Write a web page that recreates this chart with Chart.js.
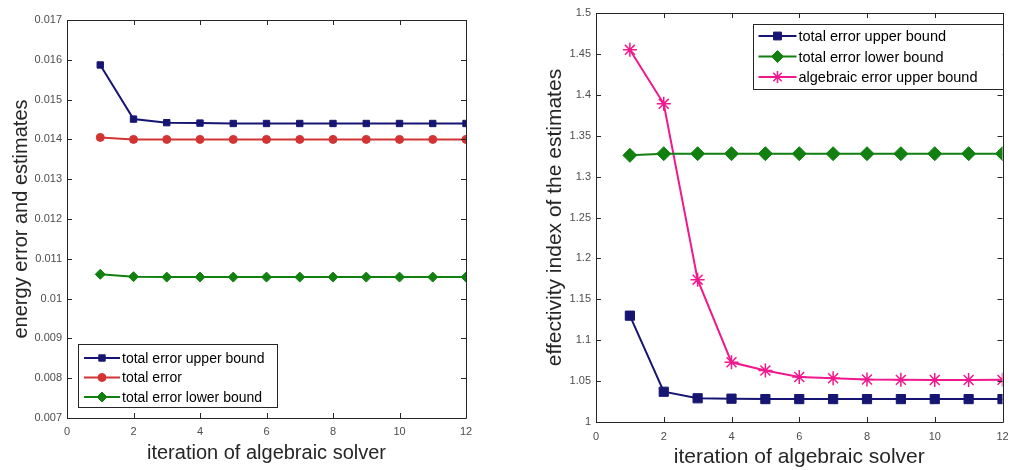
<!DOCTYPE html>
<html>
<head>
<meta charset="utf-8">
<script src="https://cdn.jsdelivr.net/npm/chart.js@4.4.0/dist/chart.umd.min.js"></script>
<style>
    html, body { margin: 0; padding: 0; background: #fff; }
    #leftWrap { position: absolute; left: 0; top: 0; width: 492px; height: 470px; }
    #rightWrap { position: absolute; left: 505px; top: 0; width: 506px; height: 470px; }
</style>
</head>
<body>
<div id="leftWrap"><canvas id="energy-chart"></canvas></div>
<div id="rightWrap"><canvas id="effectivity-chart"></canvas></div>
<script>
// data
var iterations = [1, 2, 3, 4, 5, 6, 7, 8, 9, 10, 11, 12];
var xTicks = [0, 2, 4, 6, 8, 10, 12];

// left panel: energy error and estimates
var upperBound = [0.01587, 0.01451, 0.01442, 0.01441, 0.01440, 0.01440, 0.01440, 0.01440, 0.01440, 0.01440, 0.01440, 0.01440];
var totalError = [0.01405, 0.01400, 0.01400, 0.01400, 0.01400, 0.01400, 0.01400, 0.01400, 0.01400, 0.01400, 0.01400, 0.01400];
var lowerBound = [0.01061, 0.01055, 0.01054, 0.01054, 0.01054, 0.01054, 0.01054, 0.01054, 0.01054, 0.01054, 0.01054, 0.01054];
var energyTicks = [0.007, 0.008, 0.009, 0.010, 0.011, 0.012, 0.013, 0.014, 0.015, 0.016, 0.017];

// right panel: effectivity indices
var effUpper = [1.130, 1.037, 1.029, 1.0285, 1.028, 1.028, 1.028, 1.028, 1.028, 1.028, 1.028, 1.028];
var effLower = [1.326, 1.328, 1.328, 1.328, 1.328, 1.328, 1.328, 1.328, 1.328, 1.328, 1.328, 1.328];
var effAlgebraic = [1.455, 1.389, 1.174, 1.073, 1.063, 1.055, 1.0535, 1.052, 1.0515, 1.0513, 1.0513, 1.0515];
var effTicks = [1, 1.05, 1.1, 1.15, 1.2, 1.25, 1.3, 1.35, 1.4, 1.45, 1.5];

var NAVY = "#161672";
var RED = "#d23434";
var GREEN = "#118011";
var PINK = "#f0188c";

function pts(ys) {
    return iterations.map(function (x, i) { return { x: x, y: ys[i] }; });
}

// box around the plot with inward ticks (matlab style)
var boxAxes = {
    id: 'boxAxes',
    afterDatasetsDraw: function (chart) {
        var ctx = chart.ctx, a = chart.chartArea;
        var xs = chart.scales.x, ys = chart.scales.y;
        var len = 5;
        ctx.save();
        ctx.strokeStyle = "#262626";
        ctx.lineWidth = 1;
        ctx.beginPath();
        ctx.rect(Math.round(a.left) + 0.5, Math.round(a.top) + 0.5, Math.round(a.right - a.left), Math.round(a.bottom - a.top));
        xs.ticks.forEach(function (t) {
            var px = Math.round(xs.getPixelForValue(t.value)) + 0.5;
            ctx.moveTo(px, a.bottom); ctx.lineTo(px, a.bottom - len);
            ctx.moveTo(px, a.top); ctx.lineTo(px, a.top + len);
        });
        ys.ticks.forEach(function (t) {
            var py = Math.round(ys.getPixelForValue(t.value)) + 0.5;
            ctx.moveTo(a.left, py); ctx.lineTo(a.left + len, py);
            ctx.moveTo(a.right, py); ctx.lineTo(a.right - len, py);
        });
        ctx.stroke();
        ctx.restore();
    }
};

// legend drawn inside the plot area
var insideLegend = {
    id: 'insideLegend',
    afterDraw: function (chart, args, opts) {
        var ctx = chart.ctx, a = chart.chartArea;
        var left = opts.right != null ? a.right - opts.right - opts.width : a.left + opts.left;
        var top = opts.bottom != null ? a.bottom - opts.bottom - opts.height : a.top + opts.top;
        ctx.save();
        ctx.fillStyle = "#fff";
        ctx.fillRect(left, top, opts.width, opts.height);
        ctx.strokeStyle = "#262626";
        ctx.lineWidth = 1;
        ctx.strokeRect(Math.round(left) + 0.5, Math.round(top) + 0.5, opts.width, opts.height);
        ctx.font = opts.fontSize + "px 'Liberation Sans', Arial, sans-serif";
        ctx.textBaseline = "middle";
        chart.data.datasets.forEach(function (ds, i) {
            var y = top + opts.rowStart + i * opts.rowHeight;
            ctx.strokeStyle = ds.borderColor;
            ctx.lineWidth = ds.borderWidth;
            ctx.beginPath();
            ctx.moveTo(left + opts.lineFrom, y);
            ctx.lineTo(left + opts.lineTo, y);
            ctx.stroke();
            ctx.fillStyle = ds.pointBackgroundColor;
            ctx.strokeStyle = ds.pointBorderColor;
            ctx.lineWidth = ds.pointBorderWidth;
            Chart.helpers.drawPoint(ctx, {
                pointStyle: ds.pointStyle,
                radius: ds.pointRadius * opts.markerScale,
                borderWidth: ds.pointBorderWidth
            }, left + (opts.lineFrom + opts.lineTo) / 2, y);
            ctx.fillStyle = "#000";
            ctx.fillText(ds.label, left + opts.textX, y + 1);
        });
        ctx.restore();
    }
};

function makeDataset(label, ys, color, style, radius) {
    return {
        label: label,
        data: pts(ys),
        borderColor: color,
        backgroundColor: color,
        pointBackgroundColor: color,
        pointBorderColor: color,
        borderWidth: 2,
        pointStyle: style,
        pointRadius: radius,
        pointHoverRadius: radius,
        pointBorderWidth: style === 'star' ? 1.5 : 1,
        tension: 0
    };
}

function scaleOptions(cfg) {
    return {
        x: {
            type: 'linear',
            min: 0, max: 12,
            grid: { display: false, drawTicks: false },
            border: { display: false },
            afterBuildTicks: function (s) { s.ticks = xTicks.map(function (v) { return { value: v }; }); },
            afterFit: function (s) {
                s.height = cfg.xHeight;
                // let the "12" label hang past the canvas edge like the original
                s.paddingRight = 0;
            },
            ticks: {
                color: "#4d4d4d",
                font: { size: 11, family: "'Liberation Sans', Arial, sans-serif" },
                padding: cfg.xTickPad,
                maxRotation: 0
            },
            title: {
                display: true,
                text: "iteration of algebraic solver",
                color: "#262626",
                font: { size: cfg.titleSize, family: "'Liberation Sans', Arial, sans-serif" },
                padding: { top: 0, bottom: cfg.xTitlePad }
            }
        },
        y: {
            type: 'linear',
            min: cfg.yTicks[0], max: cfg.yTicks[cfg.yTicks.length - 1],
            grid: { display: false, drawTicks: false },
            border: { display: false },
            afterBuildTicks: function (s) { s.ticks = cfg.yTicks.map(function (v) { return { value: v }; }); },
            afterFit: function (s) { s.width = cfg.yWidth; },
            ticks: {
                color: "#4d4d4d",
                font: { size: 11, family: "'Liberation Sans', Arial, sans-serif" },
                padding: 5,
                callback: cfg.fmt
            },
            title: {
                display: true,
                text: cfg.yTitle,
                color: "#262626",
                font: { size: cfg.titleSize, family: "'Liberation Sans', Arial, sans-serif" },
                padding: { top: cfg.yTitlePad, bottom: 0 }
            }
        }
    };
}

Chart.defaults.animation = false;

// Energy error chart
var ctx1 = document.getElementById("energy-chart").getContext("2d");
var energyChart = new Chart(ctx1, {
    type: "line",
    data: {
        datasets: [
            makeDataset("total error upper bound", upperBound, NAVY, 'rect', 4.5),
            makeDataset("total error", totalError, RED, 'circle', 4),
            makeDataset("total error lower bound", lowerBound, GREEN, 'rectRot', 5)
        ]
    },
    options: {
        responsive: true,
        maintainAspectRatio: false,
        layout: { padding: { left: 0, top: 20, right: 26, bottom: 0 } },
        plugins: {
            legend: { display: false },
            tooltip: { enabled: false },
            insideLegend: {
                left: 11, bottom: 11, width: 199, height: 63,
                rowStart: 14, rowHeight: 19.5,
                lineFrom: 6, lineTo: 42, textX: 44, fontSize: 14, markerScale: 1
            }
        },
        scales: scaleOptions({
            yTicks: energyTicks,
            yTitle: "energy error and estimates",
            fmt: function (v) { return v.toFixed(3).replace(/0+$/, '').replace(/\.$/, ''); },
            xHeight: 52, yWidth: 67, titleSize: 20,
            xTickPad: 7, xTitlePad: 5, yTitlePad: 9
        })
    },
    plugins: [boxAxes, insideLegend]
});

// Effectivity index chart
var ctx2 = document.getElementById("effectivity-chart").getContext("2d");
var effChart = new Chart(ctx2, {
    type: "line",
    data: {
        datasets: [
            makeDataset("total error upper bound", effUpper, NAVY, 'rect', 6.5),
            makeDataset("total error lower bound", effLower, GREEN, 'rectRot', 7),
            makeDataset("algebraic error upper bound", effAlgebraic, PINK, 'star', 7)
        ]
    },
    options: {
        responsive: true,
        maintainAspectRatio: false,
        layout: { padding: { left: 0, top: 13, right: 7, bottom: 0 } },
        plugins: {
            legend: { display: false },
            tooltip: { enabled: false },
            insideLegend: {
                right: 0, top: 11, width: 250, height: 65,
                rowStart: 12, rowHeight: 20.5,
                lineFrom: 6, lineTo: 44, textX: 46, fontSize: 14.5, markerScale: 0.85
            }
        },
        scales: scaleOptions({
            yTicks: effTicks,
            yTitle: "effectivity index of the estimates",
            fmt: function (v) { return String(+v.toFixed(2)); },
            xHeight: 48, yWidth: 91, titleSize: 21,
            xTickPad: 8, xTitlePad: 0, yTitlePad: 38
        })
    },
    plugins: [boxAxes, insideLegend]
});
</script>
</body>
</html>
